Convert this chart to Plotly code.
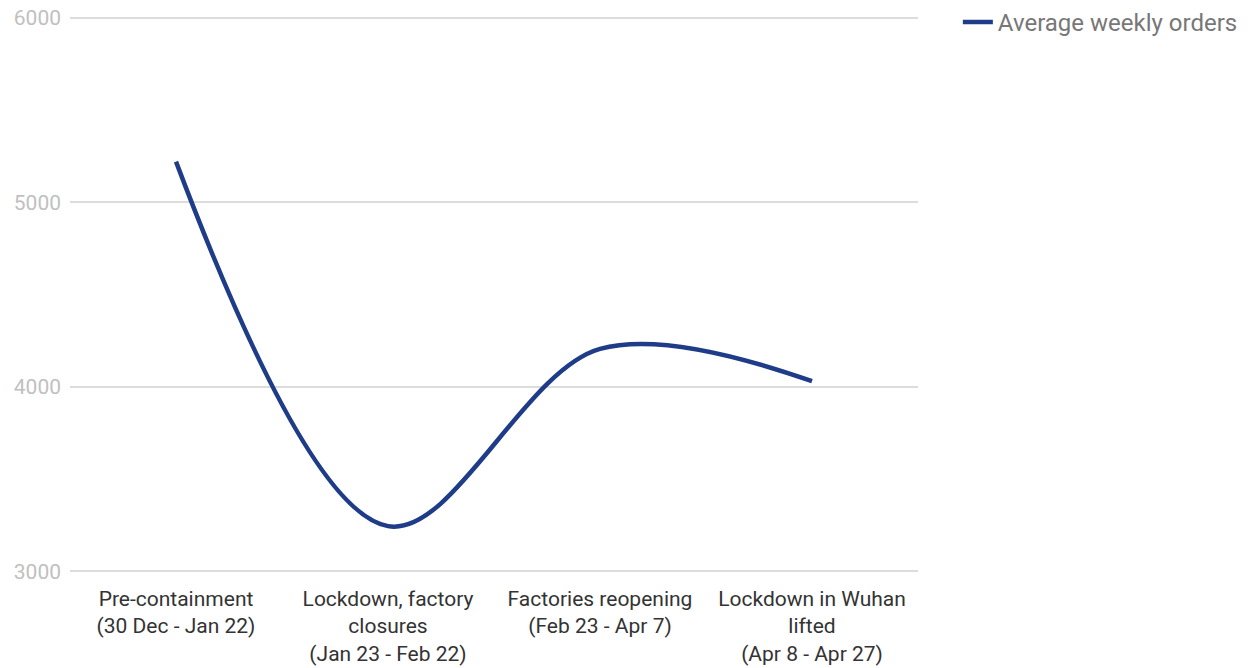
import plotly.graph_objects as go

categories = [
    "Pre-containment<br>(30 Dec - Jan 22)",
    "Lockdown, factory<br>closures<br>(Jan 23 - Feb 22)",
    "Factories reopening<br>(Feb 23 - Apr 7)",
    "Lockdown in Wuhan<br>lifted<br>(Apr 8 - Apr 27)",
]
orders = [5220, 3245, 4205, 4030]
y_ticks = [3000, 4000, 5000, 6000]
series_name = "Average weekly orders"

fig = go.Figure()
fig.add_trace(go.Scatter(
    x=list(range(len(categories))), y=orders, name=series_name,
    mode="lines", line=dict(color="#1f3c88", width=4.5, shape="spline", smoothing=1.0),
    showlegend=True,
))

fig.update_layout(
    width=1252, height=668,
    margin=dict(l=70, r=334, t=14, b=93, autoexpand=False),
    paper_bgcolor="white", plot_bgcolor="white",
    font=dict(family="Roboto, Arial, sans-serif", color="#444"),
    legend=dict(x=1.047, y=1.0, xref="paper", yref="container",
                xanchor="left", yanchor="top",
                font=dict(size=24, color="#777"), bgcolor="rgba(0,0,0,0)"),
    xaxis=dict(
        tickmode="array", tickvals=list(range(len(categories))), ticktext=categories,
        range=[-0.5, len(categories) - 0.5], showgrid=False, zeroline=False,
        showline=False, ticks="", tickfont=dict(size=21, color="#333"),
        ticklabelstandoff=9, automargin=False,
    ),
    yaxis=dict(
        range=[2980, 6020], tickvals=y_ticks, ticktext=[str(v) for v in y_ticks],
        showgrid=True, gridcolor="#dcdcdc", gridwidth=1.5, zeroline=False,
        tickfont=dict(size=21, color="#c0c0c0"), ticks="", ticklabelstandoff=8,
        automargin=False,
    ),
)
fig.write_html("out.html")
